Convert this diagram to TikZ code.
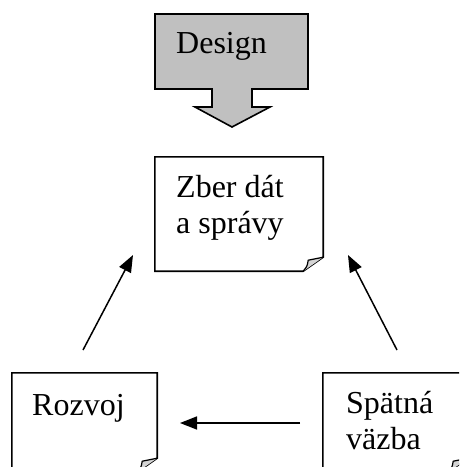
\documentclass[tikz,border=0pt]{standalone}
\usepackage{fontspec}
\setmainfont{Liberation Serif}
\usetikzlibrary{arrows.meta}
\definecolor{designgray}{HTML}{C0C0C0}
\definecolor{foldgray}{HTML}{D4D4D4}
\tikzset{
  boxline/.style={line width=1.6pt, line join=miter},
  paper/.style={draw=none, inner sep=0pt, minimum width=#1},
  lbl/.style={inner sep=0pt, font=\fontsize{32}{36}\selectfont, align=left},
  conn/.style={line width=1.5pt, -{Triangle[length=17pt,width=13pt]}},
}
\newcommand\paperoutline[1]{%
  \draw[boxline, fill=white] (#1.north west) -- (#1.north east) -- ([yshift=14pt]#1.south east)
     -- ([xshift=-20pt]#1.south east) -- (#1.south west) -- cycle;
  \draw[line width=1.2pt, fill=foldgray, line join=round] ([yshift=14pt]#1.south east)
     .. controls ([xshift=-8pt,yshift=12pt]#1.south east) .. ([xshift=-15pt,yshift=11pt]#1.south east)
     .. controls ([xshift=-16pt,yshift=5pt]#1.south east) .. ([xshift=-20pt]#1.south east);
}
\begin{document}
\begin{tikzpicture}[x=1pt,y=-1pt]
\useasboundingbox (0,0) rectangle (459,467);
\clip (0,0) rectangle (459,467);
% Design block arrow
\draw[boxline, fill=designgray] (155,14) -- (308,14) -- (308,89) -- (252,89) -- (252,107)
   -- (270,107) -- (232,127) -- (195,107) -- (212,107) -- (212,89) -- (155,89) -- cycle;
\node[lbl, anchor=base west] (design) at (176,53) {Design};
% paper boxes
\node[paper=168pt, minimum height=114pt] (zber) at (239,214) {};
\paperoutline{zber}
\node[paper=145pt, minimum height=99pt] (rozvoj) at (84.5,422.5) {};
\paperoutline{rozvoj}
\node[paper=145pt, minimum height=99pt] (spatna) at (395.5,422.5) {};
\paperoutline{spatna}
\node[lbl, anchor=base west] (zbert) at (176,233) {Zber dát\\a správy};
\node[lbl, anchor=base west] (rozvojt) at (32,415) {Rozvoj};
\node[lbl, anchor=base west] (spatnat) at (346,449) {Spätná\\väzba};
% connectors
\coordinate (l1) at (83,350);
\coordinate (l2) at (133,255);
\coordinate (r1) at (397,350);
\coordinate (r2) at (348,255);
\coordinate (h1) at (300,423);
\coordinate (h2) at (180,423);
\draw[conn] (l1) -- (l2);
\draw[conn] (r1) -- (r2);
\draw[conn] (h1) -- (h2);
\end{tikzpicture}
\end{document}
